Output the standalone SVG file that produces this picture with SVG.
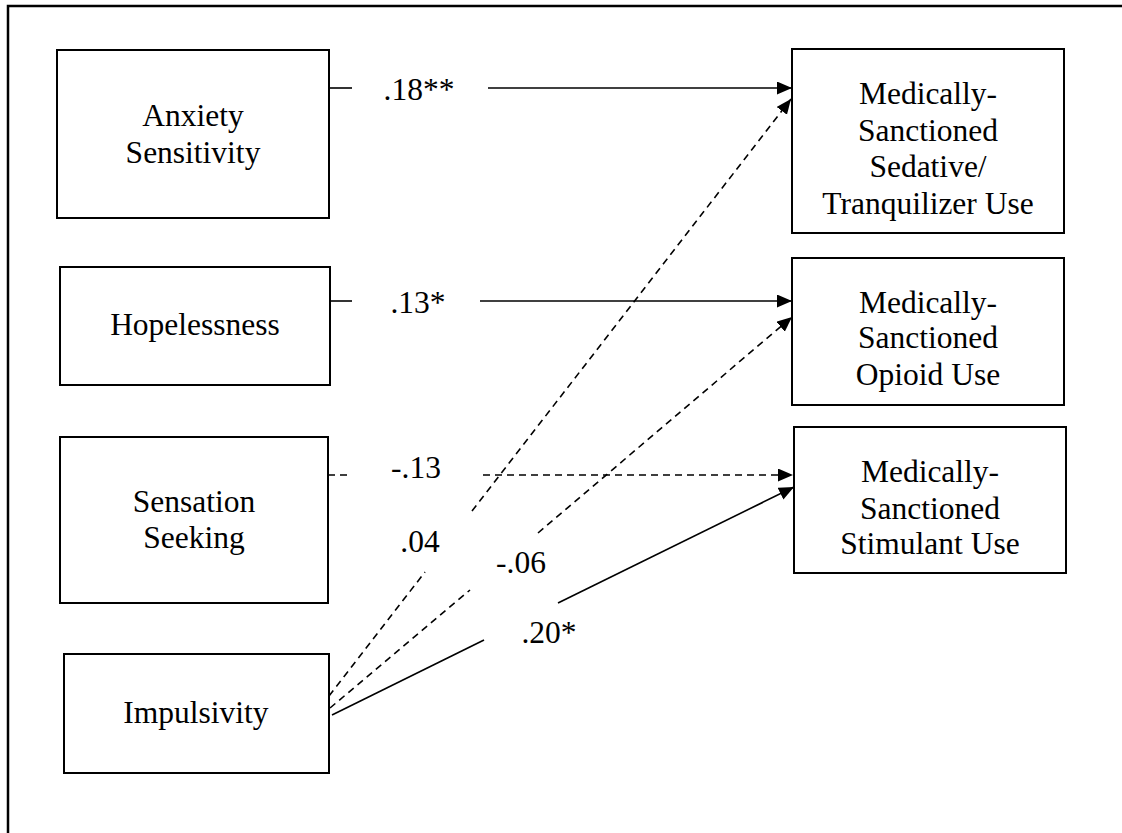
<svg xmlns="http://www.w3.org/2000/svg" width="1122" height="833" viewBox="0 0 1122 833">
<style>
.box{fill:#fff;stroke:#000;stroke-width:2}
.t{font-family:"Liberation Serif","Times New Roman",serif;font-size:31.5px;fill:#000;text-anchor:middle}
.ln{stroke:#000;stroke-width:1.6;fill:none}
.d{stroke-dasharray:7 5}
</style>
<defs>
<marker id="ah" markerUnits="userSpaceOnUse" markerWidth="16" markerHeight="14" refX="15" refY="6.5" orient="auto">
<path d="M0,0 L15,6.5 L0,13 z" fill="#000"/>
</marker>
</defs>
<rect width="1122" height="833" fill="#fff"/>
<path d="M8,833 V6 H1122" fill="none" stroke="#000" stroke-width="2.5"/>
<g id="anxiety"><rect class="box" x="57" y="50" width="272" height="168"/><text class="t" x="193" y="126">Anxiety</text><text class="t" x="193" y="163">Sensitivity</text></g>
<g id="hopelessness"><rect class="box" x="60" y="267" width="270" height="118"/><text class="t" x="195" y="335">Hopelessness</text></g>
<g id="sensation"><rect class="box" x="60" y="437" width="268" height="166"/><text class="t" x="194" y="512">Sensation</text><text class="t" x="194" y="548">Seeking</text></g>
<g id="impulsivity"><rect class="box" x="64" y="654" width="265" height="119"/><text class="t" x="196" y="723">Impulsivity</text></g>
<g id="sedative"><rect class="box" x="792" y="49" width="272" height="184"/><text class="t" x="928" y="104">Medically-</text><text class="t" x="928" y="141">Sanctioned</text><text class="t" x="928" y="177">Sedative/</text><text class="t" x="928" y="214">Tranquilizer Use</text></g>
<g id="opioid"><rect class="box" x="792" y="258" width="272" height="147"/><text class="t" x="928" y="313">Medically-</text><text class="t" x="928" y="348">Sanctioned</text><text class="t" x="928" y="385">Opioid Use</text></g>
<g id="stimulant"><rect class="box" x="794" y="427" width="272" height="146"/><text class="t" x="930" y="482">Medically-</text><text class="t" x="930" y="519">Sanctioned</text><text class="t" x="930" y="554">Stimulant Use</text></g>
<g id="connectors">
<line class="ln" x1="329" y1="88" x2="352" y2="88"/>
<line class="ln" x1="488" y1="88" x2="792" y2="88" marker-end="url(#ah)"/>
<line class="ln" x1="330" y1="301" x2="352" y2="301"/>
<line class="ln" x1="480" y1="301" x2="792" y2="301" marker-end="url(#ah)"/>
<line class="ln d" x1="328" y1="475" x2="352" y2="475"/>
<line class="ln d" x1="483" y1="475" x2="793" y2="475" marker-end="url(#ah)"/>
<line class="ln d" x1="329" y1="696" x2="425" y2="572"/>
<line class="ln d" x1="472" y1="511" x2="791" y2="99" marker-end="url(#ah)"/>
<line class="ln d" x1="330" y1="708" x2="470" y2="590"/>
<line class="ln d" x1="538" y1="533" x2="792" y2="317" marker-end="url(#ah)"/>
<line class="ln" x1="332" y1="715" x2="484" y2="640"/>
<line class="ln" x1="558" y1="603" x2="794" y2="487" marker-end="url(#ah)"/>
<text class="t" x="419" y="100">.18**</text>
<text class="t" x="418" y="313">.13*</text>
<text class="t" x="416" y="478">-.13</text>
<text class="t" x="420" y="552">.04</text>
<text class="t" x="521" y="573">-.06</text>
<text class="t" x="549" y="643">.20*</text>
</g>
</svg>
